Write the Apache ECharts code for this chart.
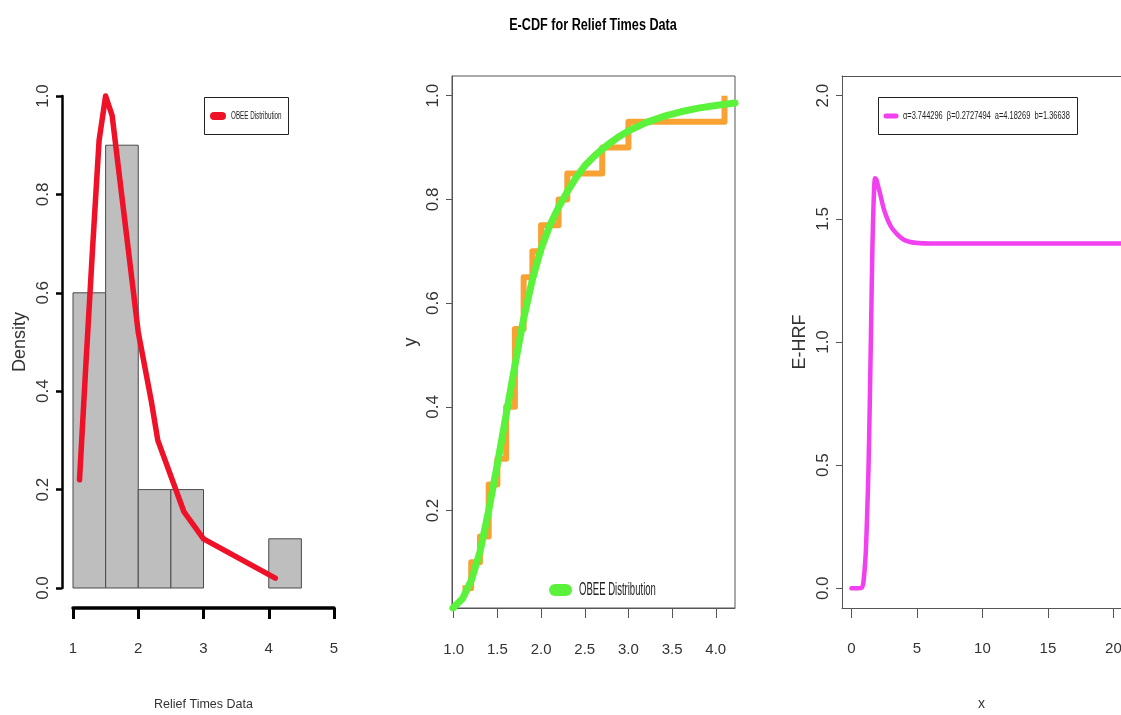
<!DOCTYPE html>
<html>
<head>
<meta charset="utf-8">
<title>E-CDF for Relief Times Data</title>
<script src="https://cdn.jsdelivr.net/npm/echarts@6/dist/echarts.min.js"></script>
<style>
  html, body { margin: 0; padding: 0; background: #ffffff; }
  #chart { width: 1121px; height: 715px; }
</style>
</head>
<body>
<div id="chart"></div>
<script>
// Relief times: histogram bins (density scale)
const binStart = [1.0, 1.5, 2.0, 2.5, 3.0, 3.5, 4.0];
const binEnd = [1.5, 2.0, 2.5, 3.0, 3.5, 4.0, 4.5];
const binDensity = [0.6, 0.9, 0.2, 0.2, 0.0, 0.0, 0.1];

// Fitted OBEE density evaluated at the sorted distinct relief times
const reliefX = [1.1, 1.2, 1.3, 1.4, 1.5, 1.6, 1.7, 1.8, 1.9, 2.0, 2.2, 2.3, 2.7, 3.0, 4.1];
const pdfY = [0.22, 0.46, 0.69, 0.91, 1.0, 0.96, 0.85, 0.74, 0.63, 0.52, 0.38, 0.30, 0.155, 0.10, 0.02];

// Empirical CDF steps
const ecdfY = [0.05, 0.10, 0.15, 0.25, 0.30, 0.40, 0.55, 0.65, 0.70, 0.75, 0.80, 0.85, 0.90, 0.95, 1.00];

// Fitted OBEE CDF
const cdfX = [0.99, 1.1, 1.2, 1.3, 1.4, 1.5, 1.6, 1.7, 1.8, 1.9, 2.0, 2.1, 2.2, 2.3, 2.4, 2.5, 2.6, 2.7, 2.8, 2.9, 3.0, 3.2, 3.4, 3.6, 3.8, 4.0, 4.22];
const cdfY = [0.012, 0.03, 0.065, 0.12, 0.2, 0.29, 0.385, 0.48, 0.57, 0.645, 0.705, 0.75, 0.785, 0.815, 0.842, 0.865, 0.882, 0.897, 0.91, 0.922, 0.932, 0.948, 0.96, 0.969, 0.976, 0.981, 0.986];

// Hazard rate function
const hrfX = [0, 0.5, 0.8, 0.9, 1.0, 1.1, 1.2, 1.3, 1.4, 1.5, 1.6, 1.7, 1.8, 1.9, 2.0, 2.2, 2.5, 3.0, 3.5, 4.0, 4.5, 5.0, 6, 8, 10, 15, 20, 20.6];
const hrfY = [0, 0, 0.003, 0.02, 0.07, 0.15, 0.3, 0.48, 0.75, 1.06, 1.38, 1.58, 1.665, 1.66, 1.64, 1.6, 1.535, 1.47, 1.437, 1.415, 1.406, 1.402, 1.4, 1.4, 1.4, 1.4, 1.4, 1.4];

// Tick labels
const histXTicks = [1, 2, 3, 4, 5];
const ecdfXTicks = [1.0, 1.5, 2.0, 2.5, 3.0, 3.5, 4.0];
const ecdfYTicks = [0.2, 0.4, 0.6, 0.8, 1.0];
const hrfXTicks = [0, 5, 10, 15, 20];
const hrfYTicks = [0.0, 0.5, 1.0, 1.5, 2.0];

const fitLabel = 'OBEE Distribution';
const hrfLabel = 'α=3.744296  β=0.2727494  a=4.18269  b=1.36638';

const SANS = "'Liberation Sans', Arial, sans-serif";

const zip = (a, b) => a.map((v, i) => [v, b[i]]);
const fmt1 = v => Number(v).toFixed(1);

const chart = echarts.init(document.getElementById('chart'), null, { renderer: 'canvas' });

const yLabel = (extra) => Object.assign({
  rotate: 90, fontFamily: SANS, fontSize: 17, color: '#333', margin: 10, formatter: fmt1
}, extra || {});
const xLabel = (extra) => Object.assign({
  fontFamily: SANS, fontSize: 15, color: '#333', margin: 33
}, extra || {});

// Condensed text: regular font squeezed horizontally
const narrowText = (text, x, y, size, sx, opts) => ({
  type: 'text', x: x, y: y, scaleX: sx, silent: true, z: 20,
  style: Object.assign({
    text: text, x: 0, y: 0, fontFamily: SANS, fontSize: size, fill: '#222',
    align: 'left', verticalAlign: 'middle'
  }, opts || {})
});

const option = {
  backgroundColor: '#ffffff',
  animation: false,
  graphic: [
    narrowText('E-CDF for Relief Times Data', 593, 26, 16, 0.79, { align: 'center', fontWeight: 'bold', fill: '#000' }),

    // density panel legend
    { type: 'rect', z: 19, silent: true, shape: { x: 204.5, y: 97.5, width: 84, height: 37 },
      style: { fill: '#fff', stroke: '#222', lineWidth: 1 } },
    { type: 'line', z: 20, silent: true, shape: { x1: 214, y1: 116, x2: 222, y2: 116 },
      style: { stroke: '#ee1128', lineWidth: 8, lineCap: 'round' } },
    narrowText(fitLabel, 231, 116, 11, 0.57),

    // ECDF panel legend
    { type: 'line', z: 20, silent: true, shape: { x1: 555, y1: 590, x2: 566, y2: 590 },
      style: { stroke: '#5bf23c', lineWidth: 12, lineCap: 'round' } },
    narrowText(fitLabel, 579, 590, 17.5, 0.545),

    // hazard panel legend
    { type: 'rect', z: 19, silent: true, shape: { x: 878.5, y: 97.5, width: 199, height: 37 },
      style: { fill: '#fff', stroke: '#222', lineWidth: 1 } },
    { type: 'line', z: 20, silent: true, shape: { x1: 886, y1: 116, x2: 896, y2: 116 },
      style: { stroke: '#f23ff0', lineWidth: 5, lineCap: 'round' } },
    narrowText(hrfLabel, 903, 116, 10, 0.745)
  ],
  grid: [
    { left: 73, width: 261, top: 96, height: 492, outerBoundsMode: 'none' },
    { left: 452, width: 283, top: 76, height: 532, show: true, borderColor: '#555', borderWidth: 1, outerBoundsMode: 'none' },
    { left: 842, right: 0, top: 76, height: 532, outerBoundsMode: 'none' }
  ],
  xAxis: [
    {
      gridIndex: 0, type: 'value', min: 1, max: 5, interval: 1, offset: 20,
      axisLine: { show: true, onZero: false, lineStyle: { color: '#000', width: 3.5 } },
      axisTick: { show: true, length: 11, lineStyle: { color: '#000', width: 3 }, customValues: histXTicks },
      axisLabel: xLabel({ customValues: histXTicks }),
      splitLine: { show: false },
      name: 'Relief Times Data', nameLocation: 'middle', nameGap: 90,
      nameTextStyle: { fontFamily: SANS, fontSize: 12.5, color: '#333' }
    },
    {
      gridIndex: 1, type: 'value', min: 0.98, max: 4.22,
      axisLine: { show: true, onZero: false, lineStyle: { color: '#555', width: 1 } },
      axisTick: { show: true, length: 10, lineStyle: { color: '#555' }, customValues: ecdfXTicks },
      axisLabel: xLabel({ customValues: ecdfXTicks, formatter: fmt1, margin: 34 }),
      splitLine: { show: false }
    },
    {
      gridIndex: 2, type: 'value', min: -0.72, max: 20.58,
      axisLine: { show: true, onZero: false, lineStyle: { color: '#555', width: 1 } },
      axisTick: { show: true, length: 10, lineStyle: { color: '#555' }, customValues: hrfXTicks },
      axisLabel: xLabel({ customValues: hrfXTicks }),
      splitLine: { show: false },
      name: 'x', nameLocation: 'middle', nameGap: 89,
      nameTextStyle: { fontFamily: SANS, fontSize: 14, color: '#333' }
    },
    {
      // top edge of the hazard panel frame
      gridIndex: 2, type: 'value', position: 'top', min: -0.72, max: 20.58,
      axisLine: { show: true, onZero: false, lineStyle: { color: '#555', width: 1 } },
      axisTick: { show: false }, axisLabel: { show: false }, splitLine: { show: false }
    }
  ],
  yAxis: [
    {
      gridIndex: 0, type: 'value', min: 0, max: 1, interval: 0.2, offset: 11,
      axisLine: { show: true, onZero: false, lineStyle: { color: '#000', width: 2.5 } },
      axisTick: { show: true, length: 6, lineStyle: { color: '#000', width: 2.5 } },
      axisLabel: yLabel(),
      splitLine: { show: false },
      name: 'Density', nameLocation: 'middle', nameGap: 33, nameRotate: 90,
      nameTextStyle: { fontFamily: SANS, fontSize: 18, color: '#333' }
    },
    {
      gridIndex: 1, type: 'value', min: 0.012, max: 1.038,
      axisLine: { show: true, onZero: false, lineStyle: { color: '#555', width: 1 } },
      axisTick: { show: true, length: 6, lineStyle: { color: '#555' }, customValues: ecdfYTicks },
      axisLabel: yLabel({ customValues: ecdfYTicks }),
      splitLine: { show: false },
      name: 'y', nameLocation: 'middle', nameGap: 32, nameRotate: 90,
      nameTextStyle: { fontFamily: SANS, fontSize: 18, color: '#333' }
    },
    {
      gridIndex: 2, type: 'value', min: -0.08, max: 2.08,
      axisLine: { show: true, onZero: false, lineStyle: { color: '#555', width: 1 } },
      axisTick: { show: true, length: 6, lineStyle: { color: '#555' }, customValues: hrfYTicks },
      axisLabel: yLabel({ customValues: hrfYTicks }),
      splitLine: { show: false },
      name: 'E-HRF', nameLocation: 'middle', nameGap: 33, nameRotate: 90,
      nameTextStyle: { fontFamily: SANS, fontSize: 18, color: '#333' }
    }
  ],
  series: [
    {
      name: 'Histogram',
      type: 'custom',
      xAxisIndex: 0, yAxisIndex: 0,
      data: binStart.map((s, i) => [s, binEnd[i], binDensity[i]]),
      encode: { x: [0, 1], y: 2 },
      renderItem: function (params, api) {
        const h = api.value(2);
        if (!(h > 0)) return null;
        const p0 = api.coord([api.value(0), h]);
        const p1 = api.coord([api.value(1), 0]);
        return {
          type: 'rect',
          shape: { x: p0[0], y: p0[1], width: p1[0] - p0[0], height: p1[1] - p0[1] },
          style: { fill: '#bebebe', stroke: '#4a4a4a', lineWidth: 1 }
        };
      },
      z: 1
    },
    {
      name: fitLabel,
      type: 'line',
      xAxisIndex: 0, yAxisIndex: 0,
      data: zip(reliefX, pdfY),
      showSymbol: false, clip: false,
      lineStyle: { color: '#ee1128', width: 5.5, cap: 'round', join: 'round' },
      itemStyle: { color: '#ee1128' },
      z: 3
    },
    {
      name: 'ECDF',
      type: 'line',
      xAxisIndex: 1, yAxisIndex: 1,
      data: zip(reliefX, ecdfY),
      step: 'end',
      showSymbol: false,
      lineStyle: { color: '#f7a233', width: 6, join: 'round' },
      itemStyle: { color: '#f7a233' },
      z: 2
    },
    {
      name: fitLabel + ' CDF',
      type: 'line',
      xAxisIndex: 1, yAxisIndex: 1,
      data: zip(cdfX, cdfY),
      showSymbol: false,
      lineStyle: { color: '#5bf23c', width: 7, cap: 'round', join: 'round' },
      itemStyle: { color: '#5bf23c' },
      z: 3
    },
    {
      name: hrfLabel,
      type: 'line',
      xAxisIndex: 2, yAxisIndex: 2,
      data: zip(hrfX, hrfY),
      smooth: 0.25,
      showSymbol: false,
      lineStyle: { color: '#f23ff0', width: 4.5, cap: 'round', join: 'round' },
      itemStyle: { color: '#f23ff0' },
      z: 3
    }
  ]
};

chart.setOption(option);
</script>
</body>
</html>
